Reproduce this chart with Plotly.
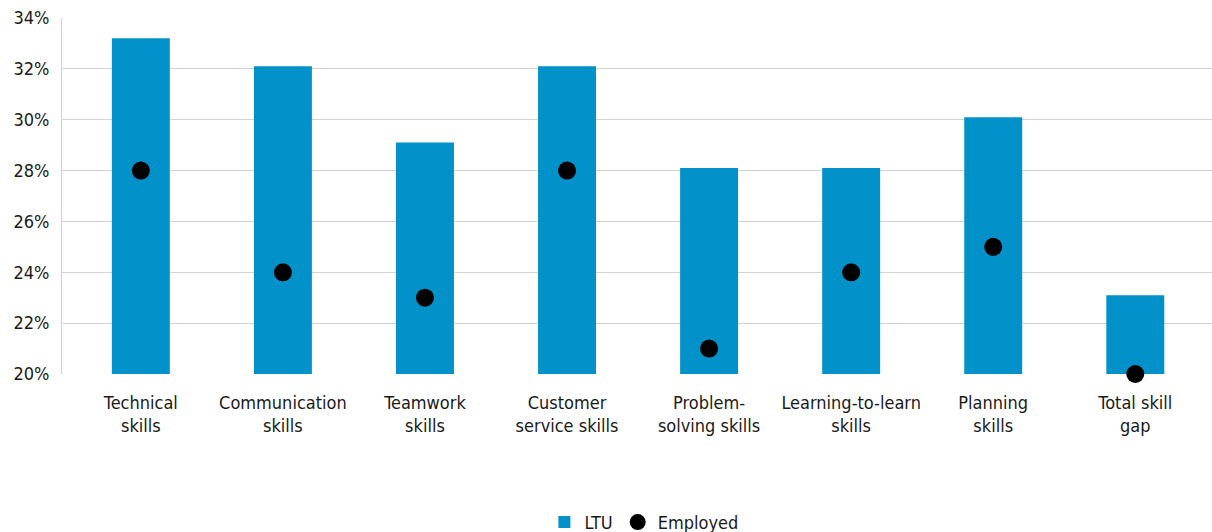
import plotly.graph_objects as go

categories = [
    "Technical<br>skills",
    "Communication<br>skills",
    "Teamwork<br>skills",
    "Customer<br>service skills",
    "Problem-<br>solving skills",
    "Learning-to-learn<br>skills",
    "Planning<br>skills",
    "Total skill<br>gap",
]
ltu = [33.2, 32.1, 29.1, 32.1, 28.1, 28.1, 30.1, 23.1]
employed = [28.0, 24.0, 23.0, 28.0, 21.0, 24.0, 25.0, 20.0]
y_ticks = [20, 22, 24, 26, 28, 30, 32, 34]

FONT = "DejaVu Sans Condensed, Roboto, sans-serif"

fig = go.Figure()
fig.add_trace(go.Bar(
    x=categories, y=ltu, name="LTU",
    marker=dict(color="#0291C8", line=dict(width=0)),
))
fig.add_trace(go.Scatter(
    x=categories, y=employed, name="Employed", mode="markers",
    marker=dict(color="black", size=18, symbol="circle"),
    cliponaxis=False,
))

fig.update_layout(
    width=1212, height=532,
    margin=dict(l=62, r=0, t=18, b=158, autoexpand=False),
    plot_bgcolor="white", paper_bgcolor="white",
    bargap=0.592,
    font=dict(family=FONT, size=18, color="#1a1a1a"),
    showlegend=True,
    legend=dict(orientation="h", x=0.506, xanchor="center",
                yref="container", y=0.018, yanchor="middle",
                font=dict(size=18), itemwidth=30, traceorder="normal"),
)
fig.update_xaxes(
    range=[-0.555, 7.54],
    showline=False, showgrid=False, ticks="", ticklabelstandoff=16,
    tickfont=dict(size=18),
)
fig.update_yaxes(
    range=[20, 34], tickvals=y_ticks, ticktext=[f"{v}%" for v in y_ticks],
    showgrid=True, gridcolor="#d3d3d3", gridwidth=1,
    showline=True, linecolor="#d3d3d3", linewidth=1,
    zeroline=False, ticks="", ticklabelstandoff=8, tickfont=dict(size=18),
)

fig.write_html("out.html")
